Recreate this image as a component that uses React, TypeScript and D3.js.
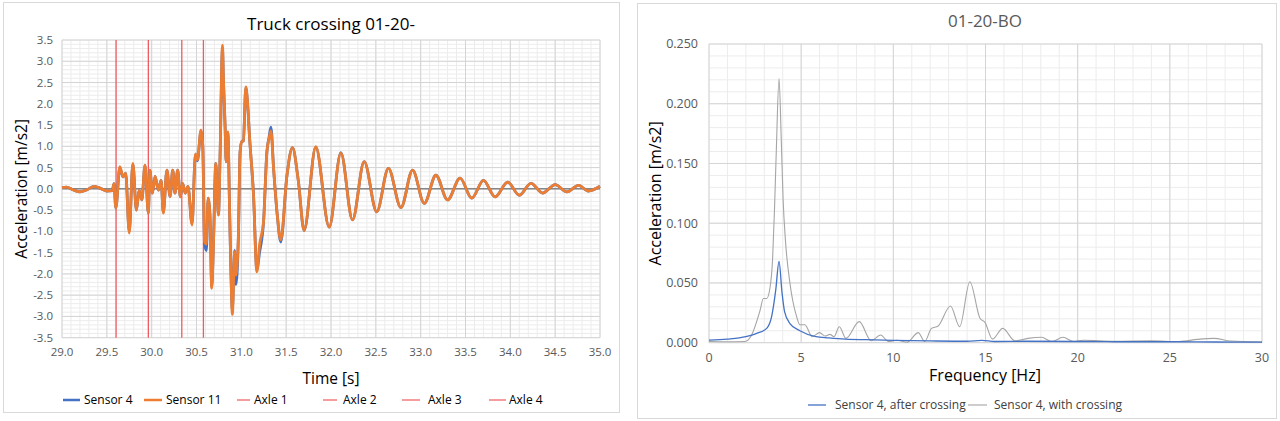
import React from "react";
import * as d3 from "d3";

// ---- left chart: time series ----
const times = [
  29.0, 29.05, 29.12, 29.2, 29.28, 29.36, 29.44, 29.5, 29.56, 29.58, 29.6, 29.645, 29.68, 29.71, 29.75,
  29.79, 29.83, 29.86, 29.89, 29.926, 29.963, 29.98, 30.008, 30.038, 30.075, 30.105, 30.13, 30.17, 30.205,
  30.235, 30.26, 30.29, 30.32, 30.345, 30.375, 30.405, 30.45, 30.488, 30.51, 30.55, 30.57, 30.59, 30.61,
  30.63, 30.65, 30.67, 30.69, 30.715, 30.73, 30.745, 30.763, 30.79, 30.8, 30.82, 30.83, 30.85, 30.87,
  30.883, 30.9, 30.925, 30.94, 30.967, 30.986, 31.005, 31.023, 31.05, 31.07, 31.09, 31.136, 31.173,
  31.203, 31.248, 31.285, 31.31, 31.33, 31.36, 31.4, 31.44, 31.508, 31.57, 31.635, 31.7, 31.83, 31.98,
  32.11, 32.24, 32.37, 32.51, 32.64, 32.78, 32.91, 33.04, 33.17, 33.3, 33.44, 33.57, 33.7, 33.83, 33.97,
  34.1, 34.23, 34.36, 34.5, 34.63, 34.76, 34.87, 35.0,
];
const sensor11 = [
  0.03, 0.04, -0.02, -0.07, -0.02, 0.06, 0.0, -0.05, -0.04, 0.12, -0.45, 0.52, 0.28, 0.37, -1.04,
  0.6, -0.5, -0.03, -0.26, 0.56, -0.57, 0.44, -0.1, 0.29, -0.03, 0.2, -0.57, 0.44, -0.18,
  0.44, -0.1, 0.44, -0.19, 0.13, -0.1, 0.06, -0.85, 0.82, 0.68, 1.38, 1.03, -1.24, -1.3,
  -0.22, -0.62, -2.34, -1.24, 0.6, -0.07, -0.62, 0.8, 3.38, 2.6, 1.43, 0.64, 1.34, -0.62,
  -1.86, -2.95, -1.48, -2.03, -1.09, 0.87, 1.11, 1.13, 2.4, 2.0, 1.27, -0.15, -1.95,
  -1.32, -0.77, 0.87, 1.19, 1.36, 0.47, -0.6, -1.2, 0.3, 0.97, 0.2, -0.98, 0.99, -0.9,
  0.84, -0.73, 0.64, -0.54, 0.48, -0.44, 0.44, -0.34, 0.32, -0.26, 0.25, -0.22, 0.2, -0.19, 0.16,
  -0.15, 0.13, -0.1, 0.1, -0.07, 0.08, -0.05, 0.06,
];
const sensor4 = [
  0.03, 0.04, -0.02, -0.07, -0.02, 0.06, 0.0, -0.05, -0.04, 0.12, -0.45, 0.5, 0.28, 0.37, -1.0,
  0.58, -0.5, -0.03, -0.26, 0.55, -0.57, 0.44, -0.1, 0.29, -0.03, 0.2, -0.55, 0.44, -0.18,
  0.44, -0.1, 0.44, -0.19, 0.13, -0.1, 0.06, -0.82, 0.8, 0.66, 1.36, 1.0, -1.3, -1.45,
  -0.22, -0.6, -2.3, -1.2, 0.6, -0.07, -0.6, 0.78, 3.3, 2.55, 1.4, 0.64, 1.3, -0.6,
  -1.86, -2.85, -1.45, -2.25, -1.15, 0.87, 1.11, 1.13, 2.38, 2.0, 1.27, -0.15, -1.9,
  -1.5, -0.77, 0.87, 1.22, 1.45, 0.47, -0.6, -1.25, 0.3, 0.97, 0.2, -0.98, 0.98, -0.9,
  0.85, -0.73, 0.64, -0.54, 0.48, -0.44, 0.44, -0.34, 0.32, -0.26, 0.25, -0.22, 0.2, -0.19, 0.16,
  -0.15, 0.13, -0.1, 0.1, -0.07, 0.08, -0.05, 0.06,
];
const axleTimes = [29.603, 29.963, 30.336, 30.577];
const leftLegend = ["Sensor 4", "Sensor 11", "Axle 1", "Axle 2", "Axle 3", "Axle 4"];

// ---- right chart: spectrum ----
const freqWith = [
  0, 1, 1.95, 2.3, 2.77, 2.95, 3.13, 3.31, 3.45, 3.55, 3.65, 3.8, 3.92, 4.02, 4.15, 4.39, 4.75, 4.93,
  5.2, 5.6, 6.0, 6.3, 6.56, 6.78, 7.07, 7.43, 8.15, 8.8, 9.31, 9.73, 10.2, 10.75, 11.35, 11.7, 12.07,
  12.43, 13.1, 13.6, 14.15, 14.7, 14.97, 15.38, 15.93, 16.6, 17.3, 18.04, 18.6, 19.2, 19.8, 20.3, 22,
  24, 25.5, 26.5, 27.4, 28.3, 30,
];
const accWith = [
  0.001, 0.0008, 0.001, 0.006, 0.027, 0.037, 0.037, 0.046, 0.07, 0.11, 0.16, 0.221, 0.17, 0.12, 0.085,
  0.05, 0.022, 0.015, 0.015, 0.005, 0.0084, 0.0056, 0.007, 0.005, 0.0134, 0.0036, 0.0176, 0.0016,
  0.0064, 0.001, 0.002, 0.0005, 0.0084, 0.001, 0.012, 0.014, 0.0307, 0.0134, 0.051, 0.0204, 0.017,
  0.003, 0.012, 0.0016, 0.0036, 0.0045, 0.001, 0.0045, 0.001, 0.002, 0.0012, 0.0015, 0.001, 0.0028,
  0.0036, 0.0014, 0.0006,
];
const freqAfter = [
  0, 1, 2, 2.59, 3.13, 3.4, 3.62, 3.8, 3.96, 4.1, 4.39, 4.93, 5.8, 6.5, 7.4, 8.5, 10, 12, 14, 14.8,
  15.5, 17, 20, 22, 25, 27.5, 30,
];
const accAfter = [
  0.0022, 0.003, 0.005, 0.0078, 0.012, 0.022, 0.044, 0.068, 0.042, 0.026, 0.016, 0.01, 0.005, 0.004,
  0.003, 0.0025, 0.002, 0.0015, 0.0012, 0.002, 0.001, 0.0012, 0.001, 0.0008, 0.0008, 0.0006, 0.0004,
];
const rightLegend = ["Sensor 4, after crossing", "Sensor 4, with crossing"];

const FONT = "'Open Sans', sans-serif";
const BLUE = "#4472C4";
const ORANGE = "#ED7D31";
const RED = "#EE5A5F";
const GRAY = "#A5A5A5";

const App: React.FC = () => {
  // left scales
  const xL = d3.scaleLinear().domain([29, 35]).range([62, 600]);
  const yL = d3.scaleLinear().domain([-3.5, 3.5]).range([337.7, 40]);
  const majorXL = d3.range(0, 13).map((i) => 29 + i * 0.5);
  const minorXL = d3.range(0, 61).map((i) => 29 + i * 0.1);
  const majorYL = d3.range(0, 15).map((i) => -3.5 + i * 0.5);
  const minorYL = d3.range(0, 71).map((i) => -3.5 + i * 0.1);

  const lineL = d3
    .line<number>()
    .x((_, i) => xL(times[i]))
    .y((d) => yL(d))
    .curve(d3.curveMonotoneX);

  // right scales
  const xR = d3.scaleLinear().domain([0, 30]).range([709, 1262]);
  const yR = d3.scaleLinear().domain([0, 0.25]).range([342.7, 44]);
  const majorXR = d3.range(0, 7).map((i) => i * 5);
  const minorXR = d3.range(0, 31);
  const majorYR = d3.range(0, 6).map((i) => i * 0.05);
  const minorYR = d3.range(0, 26).map((i) => i * 0.01);

  const lineWith = d3
    .line<number>()
    .x((_, i) => xR(freqWith[i]))
    .y((d) => yR(d))
    .curve(d3.curveMonotoneX);
  const lineAfter = d3
    .line<number>()
    .x((_, i) => xR(freqAfter[i]))
    .y((d) => yR(d))
    .curve(d3.curveMonotoneX);

  const legendL = [
    { lx: 63, lw: 17, tx: 84, color: BLUE, sw: 2.5 },
    { lx: 144, lw: 18, tx: 166, color: ORANGE, sw: 2.5 },
    { lx: 237, lw: 13, tx: 254, color: RED, sw: 1.2 },
    { lx: 323, lw: 14, tx: 343, color: RED, sw: 1.2 },
    { lx: 402, lw: 18, tx: 428, color: RED, sw: 1.2 },
    { lx: 489, lw: 17, tx: 509, color: RED, sw: 1.2 },
  ];

  return (
    <svg
      width={1280}
      height={421}
      style={{ position: "absolute", left: 0, top: 0, background: "#fff" }}
      fontFamily={FONT}
    >
      <rect x={0} y={0} width={1280} height={421} fill="#fff" />
      {/* frames */}
      <rect x={3.5} y={2.5} width={616} height={410} fill="#fff" stroke="#d9d9d9" />
      <rect x={637.5} y={3.5} width={639} height={415} fill="#fff" stroke="#d9d9d9" />

      {/* ===== LEFT CHART ===== */}
      <g>
        {minorXL.map((t, i) => (
          <line key={"mxl" + i} x1={xL(t)} x2={xL(t)} y1={yL(3.5)} y2={yL(-3.5)} stroke="#ececec" />
        ))}
        {minorYL.map((v, i) => (
          <line key={"myl" + i} x1={xL(29)} x2={xL(35)} y1={yL(v)} y2={yL(v)} stroke="#ececec" />
        ))}
        {majorXL.map((t, i) => (
          <line key={"gxl" + i} x1={xL(t)} x2={xL(t)} y1={yL(3.5)} y2={yL(-3.5)} stroke="#d4d4d4" />
        ))}
        {majorYL.map((v, i) => (
          <line key={"gyl" + i} x1={xL(29)} x2={xL(35)} y1={yL(v)} y2={yL(v)} stroke="#d4d4d4" />
        ))}
        <line x1={xL(29)} x2={xL(35)} y1={yL(0)} y2={yL(0)} stroke="#595959" strokeWidth={1} />

        {axleTimes.map((t, i) => (
          <line key={"ax" + i} x1={xL(t)} x2={xL(t)} y1={yL(3.5)} y2={yL(-3.5)} stroke={RED} strokeWidth={1.3} />
        ))}

        <path d={lineL(sensor4) || ""} fill="none" stroke={BLUE} strokeWidth={2.8} strokeLinejoin="round" />
        <path d={lineL(sensor11) || ""} fill="none" stroke={ORANGE} strokeWidth={2.8} strokeLinejoin="round" />

        {majorYL.map((v, i) => (
          <text key={"tyl" + i} x={53} y={yL(v)} dy="0.35em" textAnchor="end" fontSize={11.5} fill="#595959">
            {v.toFixed(1)}
          </text>
        ))}
        {majorXL.map((t, i) => (
          <text key={"txl" + i} x={xL(t)} y={356} textAnchor="middle" fontSize={11.5} fill="#595959">
            {t.toFixed(1)}
          </text>
        ))}

        <text x={331} y={30} textAnchor="middle" fontSize={17} fill="#000">
          Truck crossing 01-20-
        </text>
        <text x={331} y={384} textAnchor="middle" fontSize={15.5} fill="#000">
          Time [s]
        </text>
        <text
          transform={`translate(27, ${yL(0)}) rotate(-90)`}
          textAnchor="middle"
          fontSize={15.5}
          fill="#000"
        >
          Acceleration [m/s2]
        </text>

        {leftLegend.map((name, i) => (
          <g key={"ll" + i}>
            <line
              x1={legendL[i].lx}
              x2={legendL[i].lx + legendL[i].lw}
              y1={400}
              y2={400}
              stroke={legendL[i].color}
              strokeWidth={legendL[i].sw}
            />
            <text x={legendL[i].tx} y={400} dy="0.35em" fontSize={12} fill="#000">
              {name}
            </text>
          </g>
        ))}
      </g>

      {/* ===== RIGHT CHART ===== */}
      <g>
        {minorXR.map((f, i) => (
          <line key={"mxr" + i} x1={xR(f)} x2={xR(f)} y1={yR(0.25)} y2={yR(0)} stroke="#ececec" />
        ))}
        {minorYR.map((v, i) => (
          <line key={"myr" + i} x1={xR(0)} x2={xR(30)} y1={yR(v)} y2={yR(v)} stroke="#ececec" />
        ))}
        {majorXR.map((f, i) => (
          <line key={"gxr" + i} x1={xR(f)} x2={xR(f)} y1={yR(0.25)} y2={yR(0)} stroke="#d4d4d4" />
        ))}
        {majorYR.map((v, i) => (
          <line key={"gyr" + i} x1={xR(0)} x2={xR(30)} y1={yR(v)} y2={yR(v)} stroke="#d4d4d4" />
        ))}

        <path d={lineWith(accWith) || ""} fill="none" stroke={GRAY} strokeWidth={1.1} />
        <path d={lineAfter(accAfter) || ""} fill="none" stroke={BLUE} strokeWidth={1.3} />

        {majorYR.map((v, i) => (
          <text key={"tyr" + i} x={698} y={yR(v)} dy="0.35em" textAnchor="end" fontSize={12.5} fill="#595959">
            {v.toFixed(3)}
          </text>
        ))}
        {majorXR.map((f, i) => (
          <text key={"txr" + i} x={xR(f)} y={362} textAnchor="middle" fontSize={12.5} fill="#595959">
            {f}
          </text>
        ))}

        <text x={985} y={27} textAnchor="middle" fontSize={17} fill="#595959">
          01-20-BO
        </text>
        <text x={985} y={381} textAnchor="middle" fontSize={16} fill="#000">
          Frequency [Hz]
        </text>
        <text
          transform={`translate(661, ${yR(0.125)}) rotate(-90)`}
          textAnchor="middle"
          fontSize={16}
          fill="#000"
          stroke="#fff"
          strokeWidth={3}
          paintOrder="stroke"
        >
          Acceleration [m/s2]
        </text>

        <line x1={808} x2={826} y1={405} y2={405} stroke={BLUE} strokeWidth={1.3} />
        <text x={835} y={405} dy="0.35em" fontSize={12} fill="#404040">
          {rightLegend[0]}
        </text>
        <line x1={968} x2={987} y1={405} y2={405} stroke={GRAY} strokeWidth={1.1} />
        <text x={994} y={405} dy="0.35em" fontSize={12} fill="#404040">
          {rightLegend[1]}
        </text>
      </g>
    </svg>
  );
};

export default App;
